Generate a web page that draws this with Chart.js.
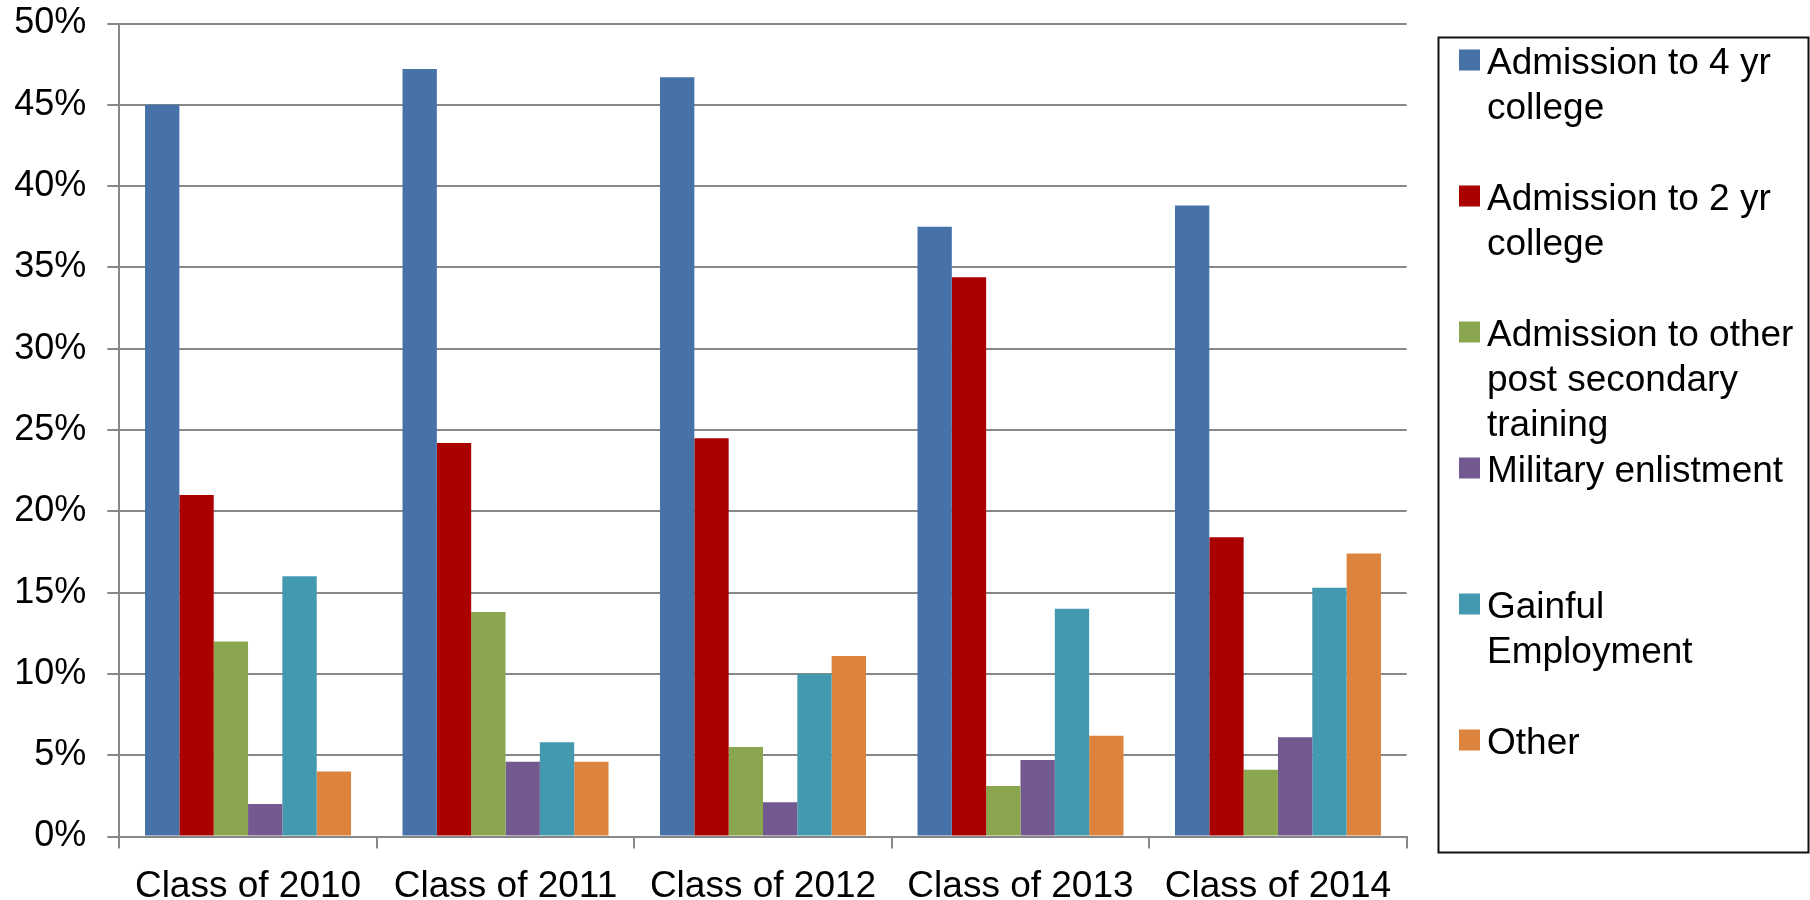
<!DOCTYPE html>
<html>
<head>
<meta charset="utf-8">
<script src="https://cdn.jsdelivr.net/npm/chart.js@4"></script>
<style>
  html, body { margin: 0; padding: 0; background: #fff; }
  #wrap { width: 1810px; height: 900px; }
</style>
</head>
<body>
<div id="wrap"><canvas id="c" width="1810" height="900"></canvas></div>
<script>
// ---- data ----
const categories = ["Class of 2010", "Class of 2011", "Class of 2012", "Class of 2013", "Class of 2014"];
const seriesNames = [
  "Admission to 4 yr college",
  "Admission to 2 yr college",
  "Admission to other post secondary training",
  "Military enlistment",
  "Gainful Employment",
  "Other"
];
const legendLines = [
  ["Admission to 4 yr", "college"],
  ["Admission to 2 yr", "college"],
  ["Admission to other", "post secondary", "training"],
  ["Military enlistment"],
  ["Gainful", "Employment"],
  ["Other"]
];
const fourYear   = [45.0, 47.2, 46.7, 37.5, 38.8];
const twoYear    = [21.0, 24.2, 24.5, 34.4, 18.4];
const otherPost  = [12.0, 13.8, 5.5, 3.1, 4.1];
const military   = [2.0, 4.6, 2.1, 4.7, 6.1];
const employment = [16.0, 5.8, 10.0, 14.0, 15.3];
const other      = [4.0, 4.6, 11.1, 6.2, 17.4];
const yTicks = [0, 5, 10, 15, 20, 25, 30, 35, 40, 45, 50];

const seriesValues = [fourYear, twoYear, otherPost, military, employment, other];
const colors = ["#4672A8", "#AA0000", "#8AA64F", "#725990", "#4299B0", "#DC843E"];

const FONT = "'Liberation Sans', Arial, sans-serif";
const GRID = "#888888";

const legendPlugin = {
  id: "boxLegend",
  afterDraw(chart) {
    const ctx = chart.ctx;
    ctx.save();
    ctx.strokeStyle = "#111";
    ctx.lineWidth = 2;
    ctx.strokeRect(1438.5, 37.5, 370, 815);
    ctx.font = "37px " + FONT;
    ctx.textBaseline = "alphabetic";
    ctx.textAlign = "left";
    chart.data.datasets.forEach((ds, i) => {
      const top = 49.5 + 136 * i;
      ctx.fillStyle = ds.backgroundColor;
      ctx.fillRect(1459, top, 21, 21);
      ctx.fillStyle = "#000";
      legendLines[i].forEach((ln, j) => {
        ctx.fillText(ln, 1487, top + 24.5 + 45 * j);
      });
    });
    ctx.restore();
  }
};

new Chart(document.getElementById("c"), {
  type: "bar",
  data: {
    labels: categories,
    datasets: seriesNames.map((name, i) => ({
      label: name,
      data: seriesValues[i],
      backgroundColor: colors[i],
      borderWidth: 0,
      categoryPercentage: 0.8,
      barPercentage: 1.0
    }))
  },
  options: {
    responsive: false,
    animation: false,
    devicePixelRatio: 1,
    layout: { padding: { top: 23.5, right: 403.3, bottom: 0, left: 0 } },
    plugins: {
      legend: { display: false },
      tooltip: { enabled: false }
    },
    scales: {
      x: {
        grid: { display: true, drawOnChartArea: false, drawTicks: true, tickLength: 12, color: GRID, lineWidth: 2, offset: true },
        border: { display: true, color: GRID, width: 2 },
        ticks: { color: "#000", font: { family: FONT, size: 37 }, padding: 16, maxRotation: 0, autoSkip: false },
        afterFit(s) { s.height = 63.5; s.paddingLeft = 0; s.paddingRight = 0; }
      },
      y: {
        min: 0,
        max: 50,
        afterBuildTicks(s) { s.ticks = yTicks.map(v => ({ value: v })); },
        grid: { color: GRID, lineWidth: 2, tickLength: 12, drawTicks: true },
        border: { display: true, color: GRID, width: 2 },
        ticks: { color: "#000", font: { family: FONT, size: 36 }, padding: 21, callback: v => v + "%" },
        afterFit(s) { s.width = 119.3; s.paddingTop = 0; s.paddingBottom = 0; }
      }
    }
  },
  plugins: [legendPlugin]
});
</script>
</body>
</html>
